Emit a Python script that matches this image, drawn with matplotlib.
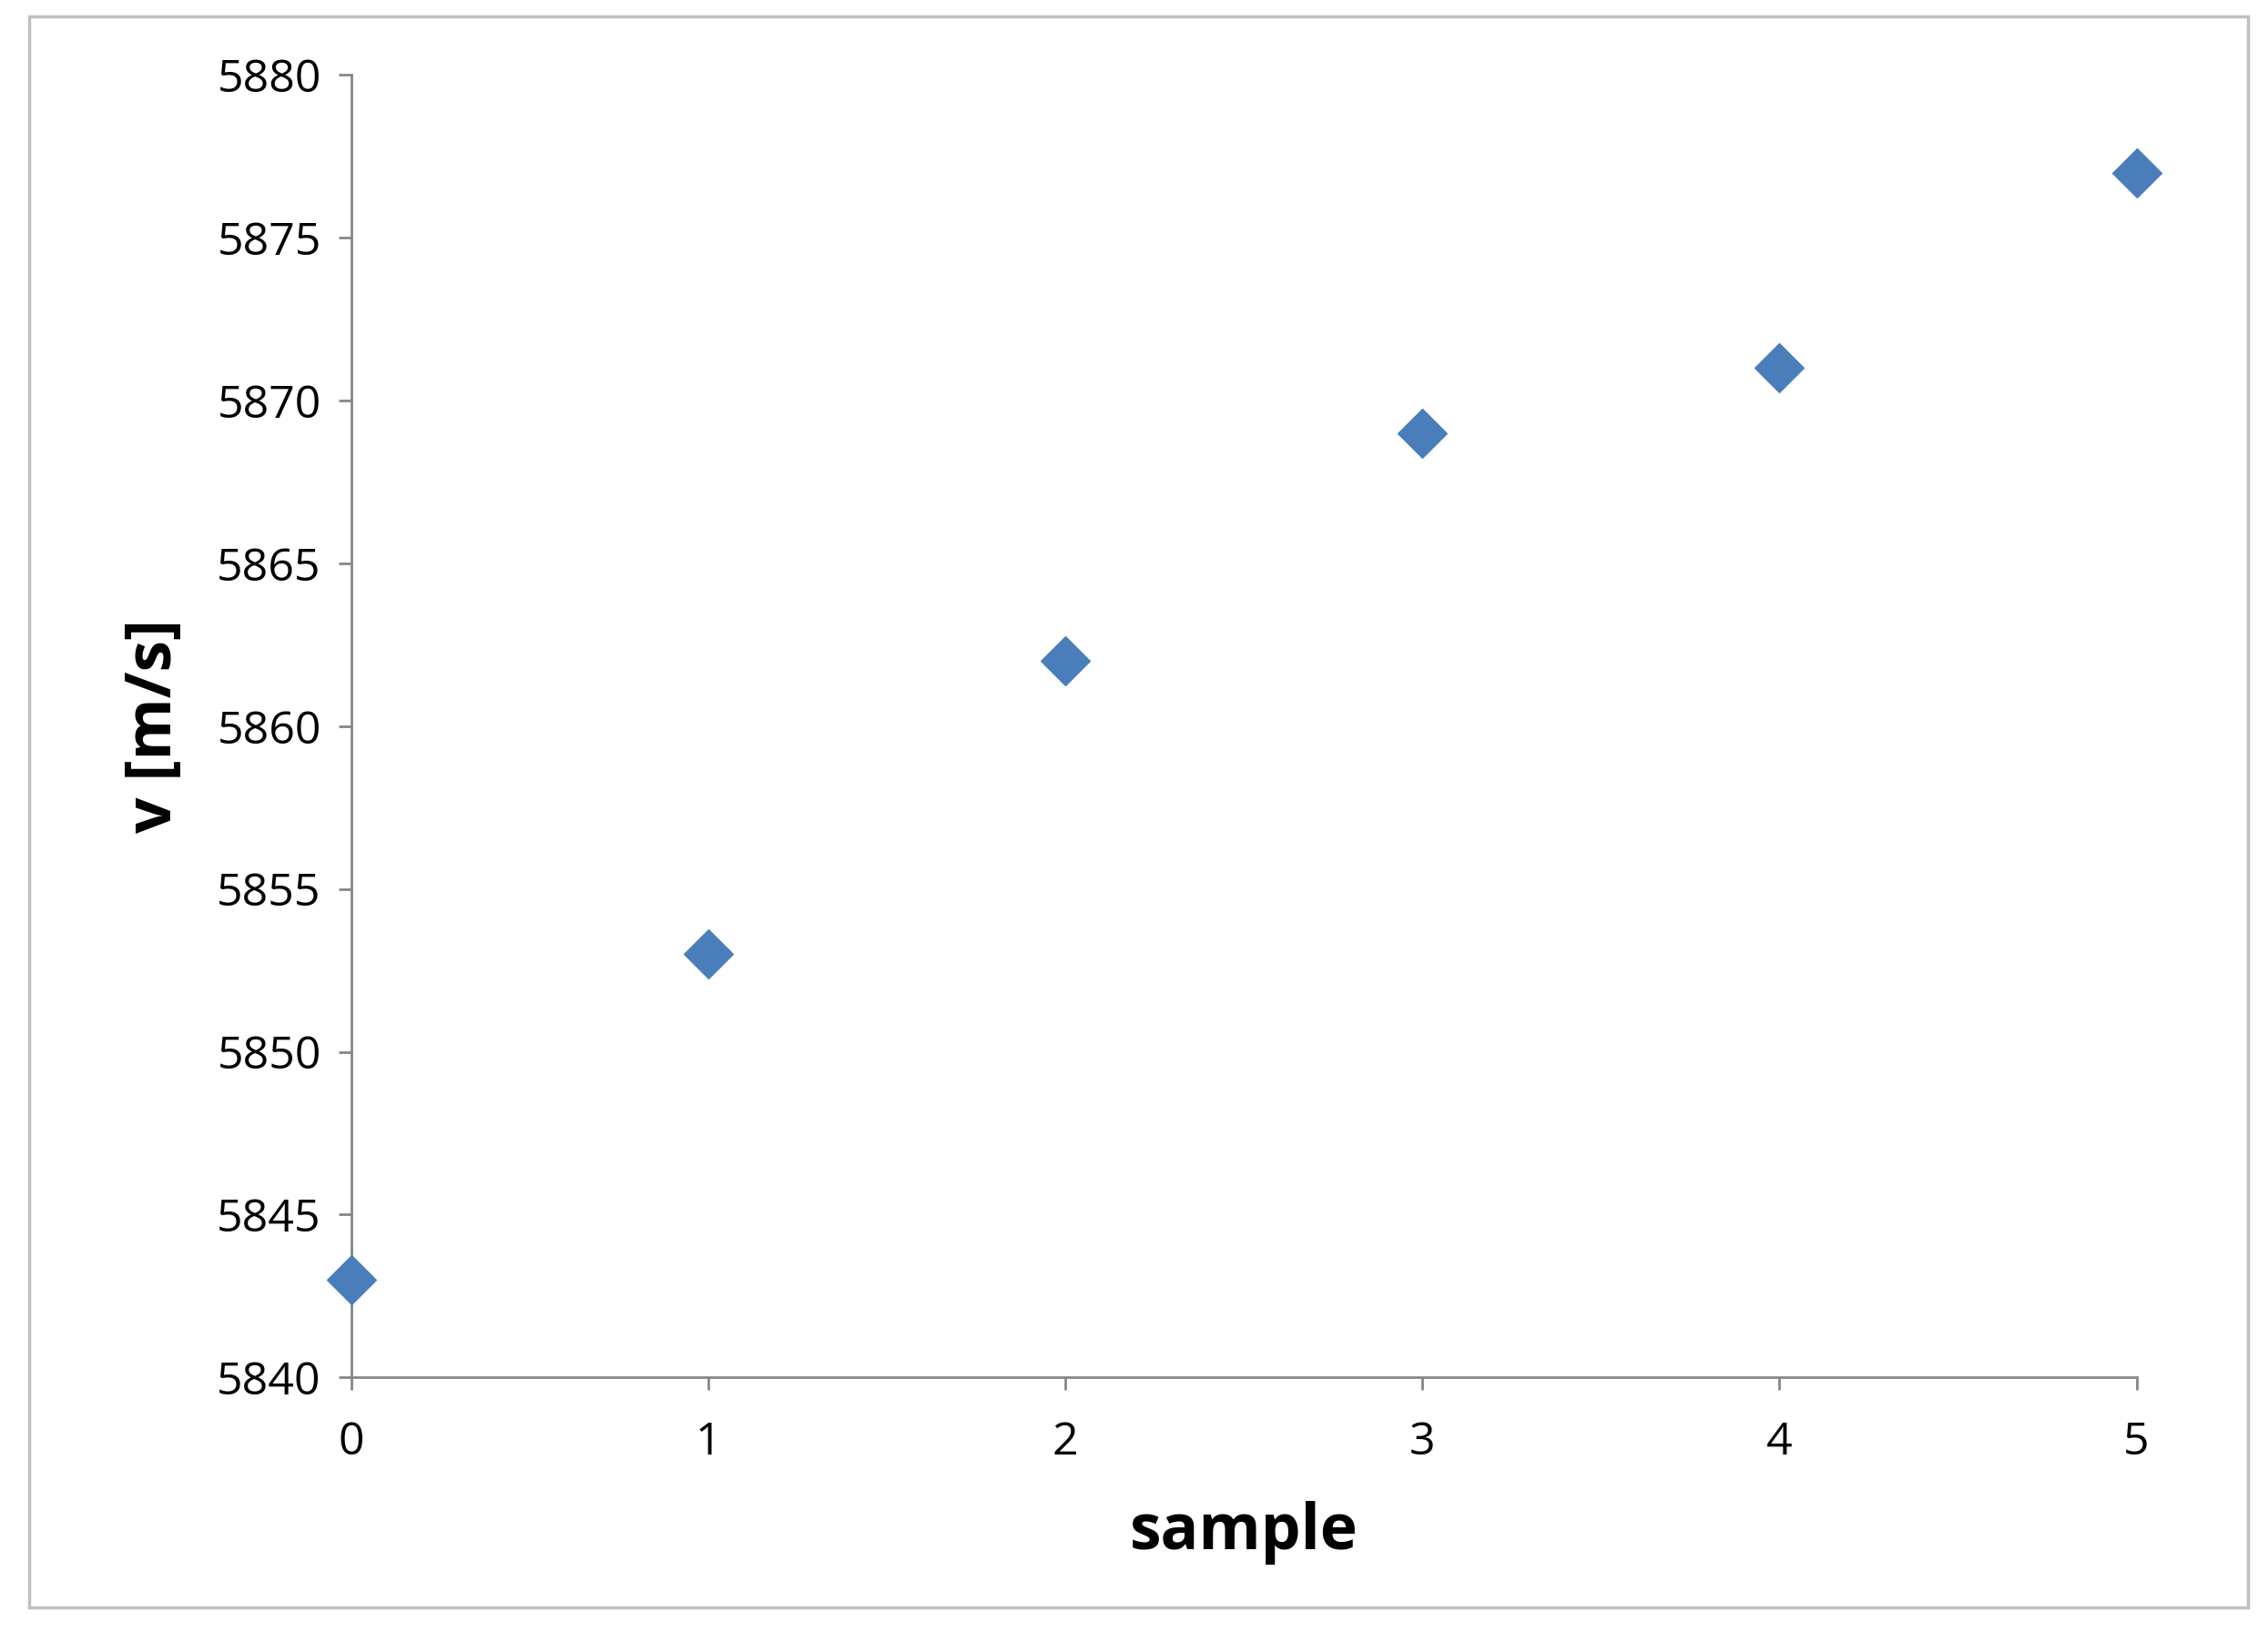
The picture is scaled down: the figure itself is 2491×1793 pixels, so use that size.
import matplotlib
matplotlib.use("Agg")
import matplotlib.pyplot as plt
from matplotlib.patches import Rectangle

samples = [0, 1, 2, 3, 4, 5]
velocity = [5843, 5853, 5862, 5869, 5871, 5877]
yticks = [5840, 5845, 5850, 5855, 5860, 5865, 5870, 5875, 5880]

plt.rcParams['font.family'] = ['Open Sans', 'DejaVu Sans']
fig = plt.figure(figsize=(24.91, 17.93), dpi=100)
fig.patches.append(Rectangle((0.013, 0.015), 0.978, 0.975, transform=fig.transFigure,
                             fill=False, edgecolor='#bfbfbf', linewidth=2.5))
ax = fig.add_axes([0.155, 0.156, 0.787, 0.798])
ax.scatter(samples, velocity, marker='D', s=750, color='#4a7ebb', clip_on=False, zorder=3)
ax.set_xlim(0, 5)
ax.set_ylim(5840, 5880)
ax.set_yticks(yticks)
ax.set_xticks(samples)
for s in ['top', 'right']:
    ax.spines[s].set_visible(False)
for s in ['left', 'bottom']:
    ax.spines[s].set_color('#868686')
    ax.spines[s].set_linewidth(2)
ax.tick_params(colors='#868686', labelcolor='black', labelsize=36, length=10, width=2, pad=14)
ax.tick_params(axis='x', pad=24)
ax.set_xlabel('sample', fontsize=50, fontweight='bold', labelpad=28)
ax.set_ylabel('v [m/s]', fontsize=50, fontweight='bold', labelpad=24)
fig.savefig('out.png', dpi=100)
